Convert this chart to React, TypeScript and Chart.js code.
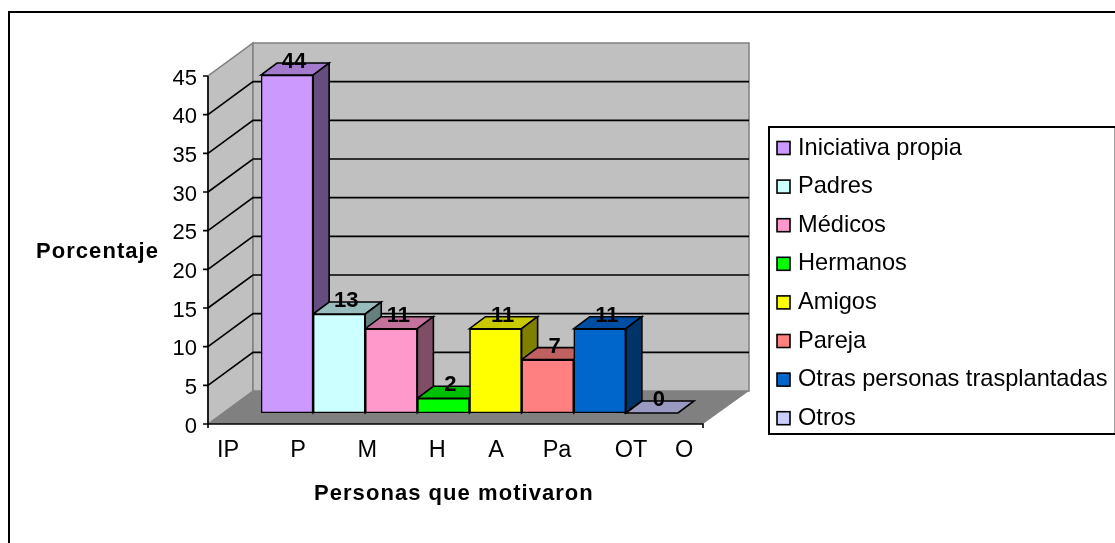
import React, { useEffect, useRef } from "react";
import { Chart, registerables } from "chart.js";

Chart.register(...registerables);

const categories = ["IP", "P", "M", "H", "A", "Pa", "OT", "O"];
const legendNames = ["Iniciativa propia", "Padres", "Médicos", "Hermanos", "Amigos", "Pareja", "Otras personas trasplantadas", "Otros"];
const values = [43.7, 12.8, 10.9, 1.9, 10.9, 6.9, 10.9, 0];
const barColors = ["#CC99FF", "#CCFFFF", "#FF99CC", "#00FF00", "#FFFF00", "#FF8080", "#0066CC", "#CCCCFF"];
const topColors = ["#A37ACC", "#99BDBD", "#C2729B", "#00BF00", "#C9C900", "#C26161", "#004DA1", "#9999C2"];
const sideColors = ["#664D80", "#668080", "#804D66", "#008000", "#808000", "#804040", "#003366", "#666680"];
// where each axis label sits, in bar slots (the reference spaces them unevenly)
const labelSlots = [-1.13, 0.21, 1.54, 2.88, 4.01, 5.18, 6.6, 7.62];

const FONT = '"Liberation Sans", Arial, sans-serif';

const depthPlugin = {
  id: "depth",
  beforeDatasetsDraw(chart: any) {
    const { ctx, chartArea: a, scales } = chart;
    const y = scales.y;
    const fL = a.left - 53, fR = a.right + 25, dx = 45, dy = 33, drop = 11;
    const fy = (v: number) => y.getPixelForValue(v) + drop;
    const poly = (pts: number[][], fill: string, stroke?: string, lw = 1) => {
      ctx.beginPath();
      pts.forEach((p, i) => (i ? ctx.lineTo(p[0], p[1]) : ctx.moveTo(p[0], p[1])));
      ctx.closePath();
      ctx.fillStyle = fill;
      ctx.fill();
      if (stroke) { ctx.strokeStyle = stroke; ctx.lineWidth = lw; ctx.stroke(); }
    };
    ctx.save();
    // outer frame
    ctx.strokeStyle = "#000"; ctx.lineWidth = 2;
    ctx.strokeRect(9, 12, 1200, 700);
    // walls and floor
    poly([[fL, fy(0)], [fL + dx, fy(0) - dy], [fL + dx, fy(45) - dy], [fL, fy(45)]], "#C0C0C0", "#808080", 1.5);
    poly([[fL + dx, fy(0) - dy], [fR + dx + 1, fy(0) - dy], [fR + dx + 1, fy(45) - dy], [fL + dx, fy(45) - dy]], "#C0C0C0", "#808080", 1.5);
    poly([[fL, fy(0)], [fR, fy(0)], [fR + dx + 1, fy(0) - dy], [fL + dx, fy(0) - dy]], "#808080");
    // gridlines
    ctx.strokeStyle = "#000"; ctx.lineWidth = 1.6;
    y.ticks.forEach((t: any) => {
      if (t.value === 0 || t.value === 45) return;
      ctx.beginPath();
      ctx.moveTo(fL, fy(t.value));
      ctx.lineTo(fL + dx, fy(t.value) - dy);
      ctx.lineTo(fR + dx + 1, fy(t.value) - dy);
      ctx.stroke();
    });
    // front axis lines and ticks
    ctx.lineWidth = 1.6;
    ctx.beginPath();
    ctx.moveTo(fL, fy(45)); ctx.lineTo(fL, fy(0) + 4);
    ctx.moveTo(fL, fy(0)); ctx.lineTo(fR, fy(0)); ctx.lineTo(fR, fy(0) + 4);
    y.ticks.forEach((t: any) => { ctx.moveTo(fL - 5, fy(t.value)); ctx.lineTo(fL, fy(t.value)); });
    ctx.stroke();
    // bar tops and sides
    const bars = chart.getDatasetMeta(0).data;
    const bx = 16, by = 12;
    bars.forEach((b: any, i: number) => {
      const l = b.x - b.width / 2, r = b.x + b.width / 2, t = b.y, base = b.base;
      poly([[l, t], [r, t], [r + bx, t - by], [l + bx, t - by]], topColors[i], "#000", 1.6);
      if (values[i] > 0) poly([[r, t], [r + bx, t - by], [r + bx, base - by], [r, base]], sideColors[i], "#000", 1.6);
    });
    ctx.restore();
  },
  afterDatasetsDraw(chart: any) {
    const { ctx } = chart;
    ctx.save();
    // data labels
    ctx.fillStyle = "#000";
    ctx.textAlign = "center";
    ctx.textBaseline = "middle";
    ctx.font = `bold 22px ${FONT}`;
    chart.getDatasetMeta(0).data.forEach((b: any, i: number) => {
      ctx.fillText(String(Math.round(values[i])), b.x + 7, b.y - 13);
    });
    // axis titles
    ctx.font = `bold 22px ${FONT}`;
    (ctx as any).letterSpacing = "1.05px";
    ctx.textAlign = "left";
    ctx.fillText("Porcentaje", 36, 252);
    ctx.fillText("Personas que motivaron", 314, 494);
    (ctx as any).letterSpacing = "0px";
    // legend
    ctx.strokeStyle = "#000";
    ctx.lineWidth = 2;
    ctx.beginPath();
    ctx.moveTo(1115, 127); ctx.lineTo(769, 127); ctx.lineTo(769, 434); ctx.lineTo(1115, 434);
    ctx.stroke();
    ctx.strokeStyle = "#A0A0A0";
    ctx.lineWidth = 1;
    ctx.beginPath();
    ctx.moveTo(1114.5, 128); ctx.lineTo(1114.5, 433);
    ctx.stroke();
    ctx.strokeStyle = "#000";
    ctx.font = `23.6px ${FONT}`;
    legendNames.forEach((name, i) => {
      const cy = 148 + i * 38.6;
      ctx.fillStyle = barColors[i];
      ctx.fillRect(777, cy - 6.5, 13, 13);
      ctx.lineWidth = 1.6;
      ctx.strokeRect(777, cy - 6.5, 13, 13);
      ctx.fillStyle = "#000";
      ctx.fillText(name, 798, cy);
    });
    ctx.restore();
  },
};

export default function App() {
  const ref = useRef<HTMLCanvasElement>(null);
  useEffect(() => {
    const chart = new Chart(ref.current!, {
      type: "bar",
      data: {
        labels: categories,
        datasets: [{
          data: values,
          backgroundColor: barColors,
          borderColor: "#000",
          borderWidth: 1.6,
          borderSkipped: false,
          barPercentage: 1,
          categoryPercentage: 1,
        }],
      },
      plugins: [depthPlugin],
      options: {
        responsive: false,
        animation: false,
        layout: { padding: { top: 65, right: 437, bottom: 0, left: 0 } },
        plugins: { legend: { display: false }, tooltip: { enabled: false }, title: { display: false } },
        scales: {
          x: { type: "category", display: false },
          xLab: {
            type: "linear",
            axis: "x",
            position: "bottom",
            min: -0.5,
            max: 7.5,
            offset: false,
            grid: { display: false, offset: false },
            border: { display: false },
            afterBuildTicks: (s: any) => { s.ticks = labelSlots.map((value) => ({ value })); },
            afterFit: (s: any) => { s.height = 130; s.paddingLeft = 0; s.paddingRight = 0; },
            ticks: {
              autoSkip: false,
              maxRotation: 0,
              minRotation: 0,
              padding: 15,
              color: "#000",
              font: { family: FONT, size: 23.5 },
              callback: (_v: any, i: number) => categories[i],
            },
          },
          y: {
            min: 0,
            max: 45,
            position: "left",
            grid: { display: false },
            border: { display: false },
            afterFit: (s: any) => { s.width = 261; s.paddingTop = 0; s.paddingBottom = 0; },
            ticks: {
              stepSize: 5,
              padding: 56,
              labelOffset: 13.5,
              color: "#000",
              font: { family: FONT, size: 22 },
            },
          },
        },
      },
    } as any);
    return () => chart.destroy();
  }, []);
  return <canvas ref={ref} width={1115} height={543} style={{ position: "fixed", left: 0, top: 0, display: "block" }} />;
}
